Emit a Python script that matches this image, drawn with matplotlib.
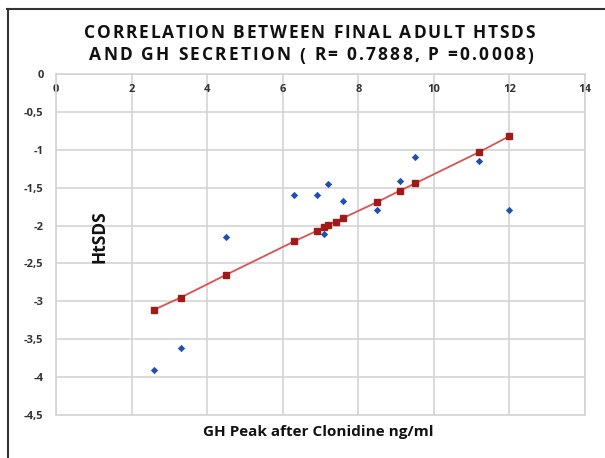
import matplotlib.pyplot as plt

# observed values (GH peak vs final adult HtSDS)
gh_peak = [2.6, 3.3, 4.5, 6.3, 6.9, 7.1, 7.2, 7.4, 7.6, 8.5, 9.1, 9.5, 11.2, 12.0]
htsds = [-3.91, -3.61, -2.15, -1.60, -1.60, -2.11, -1.45, -1.95, -1.67, -1.80, -1.41, -1.10, -1.15, -1.80]

# fitted values (trend line points)
fit_x = [2.6, 3.3, 4.5, 6.3, 6.9, 7.1, 7.2, 7.4, 7.6, 8.5, 9.1, 9.5, 11.2, 12.0]
fit_y = [-3.11, -2.95, -2.65, -2.21, -2.07, -2.02, -1.99, -1.95, -1.90, -1.69, -1.54, -1.445, -1.03, -0.82]

x_ticks = [0, 2, 4, 6, 8, 10, 12, 14]
y_ticks = [0, -0.5, -1, -1.5, -2, -2.5, -3, -3.5, -4, -4.5]
y_labels = ['0', '-0,5', '-1', '-1,5', '-2', '-2,5', '-3', '-3,5', '-4', '-4,5']

title_lines = ['CORRELATION BETWEEN FINAL ADULT HTSDS',
               'AND GH SECRETION ( R= 0.7888, P =0.0008)']

plt.rcParams['font.family'] = ['Open Sans', 'DejaVu Sans']

W, H = 605, 458
fig = plt.figure(figsize=(W / 100, H / 100), dpi=100)
ax = fig.add_axes([56 / W, 1 - 415 / H, (585 - 56) / W, (415 - 74) / H])

ax.scatter(gh_peak, htsds, marker='D', s=14, color='#1f4fb4', zorder=3, linewidths=0)
ax.plot(fit_x, fit_y, color='#d9534f', lw=1.3, marker='s', markersize=4.5,
        markerfacecolor='#a11a1a', markeredgecolor='#a11a1a', zorder=4)

ax.set_xlim(0, 14)
ax.set_ylim(-4.5, 0)
ax.set_xticks(x_ticks)
ax.set_yticks(y_ticks)
ax.set_yticklabels(y_labels)
ax.xaxis.tick_top()
ax.tick_params(axis='x', direction='in', length=0, pad=-15, labelsize=8, labelcolor='#333333')
ax.tick_params(axis='y', length=0, pad=9, labelsize=8, labelcolor='#333333')
for lab in ax.get_xticklabels() + ax.get_yticklabels():
    lab.set_fontweight('bold')

ax.grid(True, color='#d4d4d4', lw=1.2)
ax.set_axisbelow(True)
for s in ax.spines.values():
    s.set_color('#d4d4d4')
    s.set_linewidth(1.2)

ax.text(100 / W, 1 - 237 / H, 'HtSDS', transform=fig.transFigure, rotation=90, ha='center',
        va='center', fontsize=12.5, fontweight='bold', color='#111111')
fig.text(318 / W, 1 - 432 / H, 'GH Peak after Clonidine ng/ml', ha='center', va='center',
         fontsize=11, fontweight='bold', color='#111111')

# title with wide letter spacing, drawn letter by letter
renderer = fig.canvas.get_renderer()
tkw = dict(fontsize=12.5, fontweight='bold', color='#111111', va='center', ha='left')


def text_width(s):
    t = fig.text(0, 0, s, **tkw)
    w = t.get_window_extent(renderer).width
    t.remove()
    return w


bar_w = text_width('||')
for line, (x0, x1, yc) in zip(title_lines, [(84, 535, 33), (89, 533, 55.5)]):
    widths = [text_width('|' + ch + '|') - bar_w for ch in line]
    gap = (x1 - x0 - sum(widths)) / (len(line) - 1)
    x = x0
    for ch, w in zip(line, widths):
        if ch != ' ':
            fig.text(x / W, 1 - yc / H, ch, **tkw)
        x += w + gap

# outer frame (top and left edge)
fig.add_artist(plt.Line2D([7 / W, 1], [1 - 9 / H, 1 - 9 / H], transform=fig.transFigure,
                          color='#333333', lw=1.5))
fig.add_artist(plt.Line2D([8 / W, 8 / W], [0, 1 - 9 / H], transform=fig.transFigure,
                          color='#333333', lw=1.5))

plt.savefig('out.png', dpi=100)
